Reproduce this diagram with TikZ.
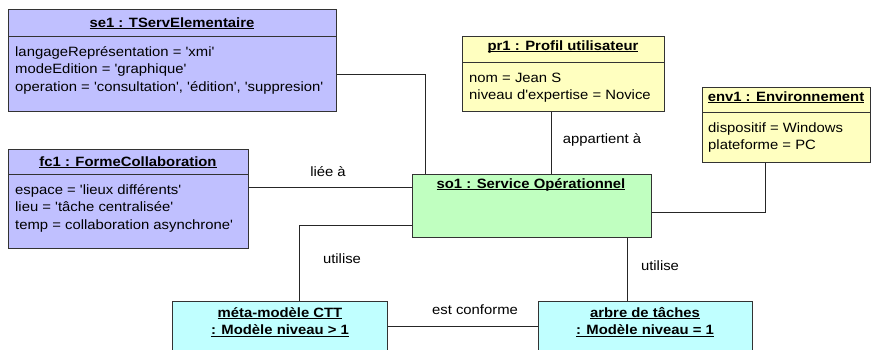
\documentclass[tikz,border=0pt]{standalone}
\usepackage{fontspec}
\setmainfont{Liberation Sans}[FakeStretch=1.1, Ligatures=TeXOff]
\usetikzlibrary{positioning}

\definecolor{objblue}{RGB}{192,192,255}
\definecolor{objyellow}{RGB}{255,255,192}
\definecolor{objgreen}{RGB}{192,255,192}
\definecolor{objcyan}{RGB}{192,255,255}

\newcommand{\objname}[1]{\underline{\smash{#1}}}

\tikzset{
  obj/.style={draw=black!80, line width=0.9pt, anchor=north west, inner sep=0pt},
  compart/.style={draw=black!80, line width=0.9pt},
  objtitle/.style={font=\fontsize{13.5}{17.5}\selectfont\bfseries, anchor=base, inner sep=0pt, align=center},
  attrs/.style={align=left, anchor=base west, inner sep=0pt},
  link/.style={draw=black!85, line width=0.9pt},
  lbl/.style={inner sep=0pt},
}

\begin{document}
\begin{tikzpicture}[x=1pt, y=-1pt, font=\fontsize{13.5}{17.5}\selectfont]
        \clip (0,0) rectangle (872,349);
        % objets
        \node[obj, fill=objblue, minimum width=328pt, minimum height=102pt] (se1) at (8,9) {};
        \node[obj, fill=objblue, minimum width=240pt, minimum height=99pt] (fc1) at (8,149) {};
        \node[obj, fill=objyellow, minimum width=202pt, minimum height=75pt] (pr1) at (462,36) {};
        \node[obj, fill=objyellow, minimum width=168pt, minimum height=75pt] (env1) at (702,87) {};
        \node[obj, fill=objgreen, minimum width=239pt, minimum height=63pt] (so1) at (412,174) {};
        \node[obj, fill=objcyan, minimum width=215pt, minimum height=60pt] (meta) at (172,301) {};
        \node[obj, fill=objcyan, minimum width=214pt, minimum height=60pt] (arbre) at (538,301) {};
        \draw[compart] ([yshift=-27pt]se1.north west) -- ([yshift=-27pt]se1.north east);
        \draw[compart] ([yshift=-25pt]fc1.north west) -- ([yshift=-25pt]fc1.north east);
        \draw[compart] ([yshift=-26pt]pr1.north west) -- ([yshift=-26pt]pr1.north east);
        \draw[compart] ([yshift=-25pt]env1.north west) -- ([yshift=-25pt]env1.north east);
        % noms (base = derniere ligne)
        \node[objtitle] (se1t) at (172,27) {\objname{se1 : TServElementaire}};
        \node[objtitle] (fc1t) at (128,166) {\objname{fc1 : FormeCollaboration}};
        \node[objtitle] (pr1t) at (563,50) {\objname{pr1 : Profil utilisateur}};
        \node[objtitle] (env1t) at (786,101) {\objname{env1 : Environnement}};
        \node[objtitle] (so1t) at (531,188) {\objname{so1 : Service Opérationnel}};
        \node[objtitle] (metat) at (280,334.5) {\objname{méta-modèle CTT}\\\objname{: Modèle niveau > 1}};
        \node[objtitle] (arbret) at (645,334.5) {\objname{arbre de tâches}\\\objname{: Modèle niveau = 1}};
        % attributs
        \node[attrs] (se1a) at (15,91) {langageReprésentation = 'xmi'\\modeEdition = 'graphique'\\operation = 'consultation', 'édition', 'suppresion'};
        \node[attrs] (fc1a) at (15,229) {espace = 'lieux  différents'\\lieu = 'tâche centralisée'\\temp = collaboration asynchrone'};
        \node[attrs] (pr1a) at (469,99.5) {nom = Jean S\\niveau d'expertise = Novice};
        \node[attrs] (env1a) at (708,149.5) {dispositif = Windows\\plateforme = PC};
        % liens
        \draw[link] (se1.east |- 0,74) -| (so1.north -| 425,0);
        \draw[link] (fc1.east |- 0,187) -- (so1.west |- 0,187);
        \draw[link] (pr1.south -| 551,0) -- (so1.north -| 551,0);
        \draw[link] (env1.south -| 765,0) |- (so1.east |- 0,212);
        \draw[link] (so1.west |- 0,225) -| (meta.north -| 299,0);
        \draw[link] (so1.south -| 627,0) -- (arbre.north -| 627,0);
        \draw[link] (meta.east |- 0,326) -- (arbre.west |- 0,326);
        \node[lbl] (l1) at (328,172) {liée à};
        \node[lbl] (l2) at (602,140) {appartient à};
        \node[lbl] (l3) at (342,259) {utilise};
        \node[lbl] (l4) at (660,266) {utilise};
        \node[lbl] (l5) at (475,310) {est conforme};
    \end{tikzpicture}
\end{document}
